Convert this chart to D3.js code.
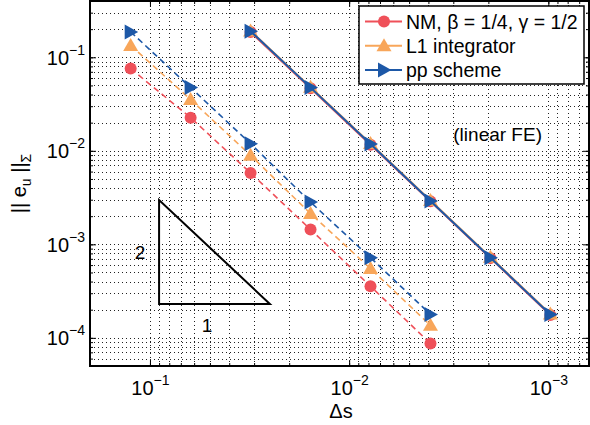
<!DOCTYPE html>
<html><head><meta charset="utf-8">
<script src="https://cdn.jsdelivr.net/npm/d3@7"></script>
<style>
html,body{margin:0;padding:0;background:#fff;}
svg{display:block;font-family:"Liberation Sans",Arial,Helvetica,sans-serif;}
</style></head>
<body>
<svg id="chart" width="590" height="425"></svg>
<script>
// ---- data ----
const dsCoarse = [1/8, 1/16, 1/32, 1/64, 1/128, 1/256];
const dsFine   = [1/32, 1/64, 1/128, 1/256, 1/512, 1/1024];

const nmDashed = [0.0757, 0.0226, 0.0058, 0.00144, 0.000356, 0.000087];
const l1Dashed = [0.134, 0.0353, 0.00895, 0.00213, 0.00055, 0.000136];
const ppDashed = [0.187, 0.0474, 0.0119, 0.00283, 0.00072, 0.000178];

const nmSolid = [0.186, 0.0466, 0.0116, 0.00288, 0.000712, 0.000175];
const l1Solid = [0.191, 0.0479, 0.01195, 0.00294, 0.000728, 0.00018];
const ppSolid = [0.19, 0.0474, 0.0118, 0.00291, 0.00072, 0.000178];

const seriesNames = ["NM, \u03B2 = 1/4, \u03B3 = 1/2", "L1 integrator", "pp scheme"];
const xTickValues = [1e-1, 1e-2, 1e-3];
const xTickExps = ["\u22121", "\u22122", "\u22123"];
const yTickValues = [1e-1, 1e-2, 1e-3, 1e-4];
const yTickExps = ["\u22121", "\u22122", "\u22123", "\u22124"];
const slopeTriX = [0.09, 0.025];
const slopeTriYBottom = 2.3e-4;
const slopeLabels = ["2", "1"];
const annotation = "(linear FE)";

// ---- layout ----
const W = 590, H = 425;
const L = 90, R = 589, T = 1, B = 366;
const colors = ["#ef5059", "#f8a65a", "#1d58a7"];

const svg = d3.select("#chart");
const x = d3.scaleLog().domain([0.2, 0.000625]).range([L, R]);
const y = d3.scaleLog().domain([5e-5, 0.4]).range([B, T]);

// minor values
function logVals(dom) {
  const lo = Math.min(...dom), hi = Math.max(...dom);
  const out = [];
  for (let e = -6; e <= 1; e++) for (let k = 1; k <= 9; k++) {
    const v = k * Math.pow(10, e);
    if (v >= lo * 0.9999 && v <= hi * 1.0001) out.push(v);
  }
  return out;
}
const xAll = logVals(x.domain());
const yAll = logVals(y.domain());

// grid
const grid = svg.append("g").attr("stroke", "#222").attr("stroke-width", 1)
  .attr("stroke-dasharray", "1,3").attr("shape-rendering", "crispEdges");
grid.selectAll("line.gx").data(xAll.filter(v => Math.abs(x(v) - L) > 1 && Math.abs(x(v) - R) > 1)).enter().append("line")
  .attr("x1", d => Math.round(x(d)) + 0.5).attr("x2", d => Math.round(x(d)) + 0.5).attr("y1", T).attr("y2", B);
grid.selectAll("line.gy").data(yAll.filter(v => Math.abs(y(v) - B) > 1 && Math.abs(y(v) - T) > 1)).enter().append("line")
  .attr("y1", d => Math.round(y(d)) + 0.5).attr("y2", d => Math.round(y(d)) + 0.5).attr("x1", L).attr("x2", R);

// axes (inward ticks) major + minor, all four sides
function axisStyle(g) {
  g.select(".domain").remove();
  g.selectAll("line").attr("stroke", "#000").attr("stroke-width", 1);
}
svg.append("g").attr("transform", `translate(0,${B})`)
  .call(d3.axisBottom(x).tickValues(xAll).tickSize(-3).tickFormat(""))
  .call(axisStyle);
svg.append("g").attr("transform", `translate(0,${T})`)
  .call(d3.axisTop(x).tickValues(xAll).tickSize(-3).tickFormat(""))
  .call(axisStyle);
svg.append("g").attr("transform", `translate(${L},0)`)
  .call(d3.axisLeft(y).tickValues(yAll).tickSize(-3).tickFormat(""))
  .call(axisStyle);
svg.append("g").attr("transform", `translate(${R},0)`)
  .call(d3.axisRight(y).tickValues(yAll).tickSize(-3).tickFormat(""))
  .call(axisStyle);

const xAx = svg.append("g").attr("transform", `translate(0,${B})`)
  .call(d3.axisBottom(x).tickValues(xTickValues).tickSize(-6).tickPadding(0).tickFormat(""))
  .call(axisStyle);
svg.append("g").attr("transform", `translate(0,${T})`)
  .call(d3.axisTop(x).tickValues(xTickValues).tickSize(-6).tickFormat(""))
  .call(axisStyle);
const yAx = svg.append("g").attr("transform", `translate(${L},0)`)
  .call(d3.axisLeft(y).tickValues(yTickValues).tickSize(-6).tickPadding(0).tickFormat(""))
  .call(axisStyle);
svg.append("g").attr("transform", `translate(${R},0)`)
  .call(d3.axisRight(y).tickValues(yTickValues).tickSize(-6).tickFormat(""))
  .call(axisStyle);

// tick labels with superscripts
xAx.selectAll(".tick").each(function(d, i) {
  const t = d3.select(this).select("text");
  t.attr("y", 29).attr("dy", null).attr("fill", "#000").attr("text-anchor", "middle")
    .attr("font-size", 20).attr("font-family", "'Liberation Sans',Arial,sans-serif");
  t.append("tspan").text("10");
  t.append("tspan").attr("font-size", 14).attr("dy", -10).text(xTickExps[i]);
});
yAx.selectAll(".tick").each(function(d, i) {
  const t = d3.select(this).select("text");
  t.attr("x", -5).attr("dy", null).attr("y", 7).attr("fill", "#000").attr("text-anchor", "end")
    .attr("font-size", 20).attr("font-family", "'Liberation Sans',Arial,sans-serif");
  t.append("tspan").text("10");
  t.append("tspan").attr("font-size", 14).attr("dy", -10).text(yTickExps[i]);
});

// axes box
svg.append("rect").attr("x", L).attr("y", T).attr("width", R - L).attr("height", B - T)
  .attr("fill", "none").attr("stroke", "#000").attr("stroke-width", 2);

// clip
svg.append("clipPath").attr("id", "clip").append("rect")
  .attr("x", L).attr("y", T).attr("width", R - L).attr("height", B - T);
const plot = svg.append("g").attr("clip-path", "url(#clip)");

// slope triangle
const triPts = [[slopeTriX[0], slopeTriYBottom * Math.pow(slopeTriX[0] / slopeTriX[1], 2)],
                [slopeTriX[0], slopeTriYBottom], [slopeTriX[1], slopeTriYBottom]];
plot.append("path").attr("d", d3.line().x(d => x(d[0])).y(d => y(d[1]))(triPts) + "Z")
  .attr("fill", "none").attr("stroke", "#000").attr("stroke-width", 2);
svg.append("text").attr("x", x(slopeTriX[0]) - 19).attr("y", (y(triPts[0][1]) + y(triPts[1][1])) / 2 + 7)
  .attr("text-anchor", "middle").attr("font-size", 19).text(slopeLabels[0]);
svg.append("text").attr("x", x(slopeTriX[0]) + 48).attr("y", y(slopeTriYBottom) + 28)
  .attr("text-anchor", "middle").attr("font-size", 19).text(slopeLabels[1]);

// annotation
svg.append("text").attr("x", x(0.003)).attr("y", y(0.0127)).attr("font-size", 19).text(annotation);

// markers
function marker(sel, kind, color) {
  if (kind === 0) {
    sel.append("circle").attr("r", 6).attr("fill", color);
  } else if (kind === 1) {
    sel.append("path").attr("d", "M0,-7.5L7.5,5.5L-7.5,5.5Z").attr("fill", color);
  } else {
    sel.append("path").attr("d", "M7.5,0L-6,-7.5L-6,7.5Z").attr("fill", color);
  }
}

function drawSeries(xs, ys, kind, dashed) {
  const pts = xs.map((v, i) => [v, ys[i]]);
  plot.append("path").attr("d", d3.line().x(d => x(d[0])).y(d => y(d[1]))(pts))
    .attr("fill", "none").attr("stroke", colors[kind]).attr("stroke-width", dashed ? 1.6 : 2)
    .attr("stroke-dasharray", dashed ? "6,4" : null);
  const g = plot.append("g");
  pts.forEach(p => {
    const m = g.append("g").attr("transform", `translate(${x(p[0])},${y(p[1])})`);
    marker(m, kind, colors[kind]);
  });
}
drawSeries(dsCoarse, nmDashed, 0, true);
drawSeries(dsCoarse, l1Dashed, 1, true);
drawSeries(dsCoarse, ppDashed, 2, true);
drawSeries(dsFine, nmSolid, 0, false);
drawSeries(dsFine, l1Solid, 1, false);
drawSeries(dsFine, ppSolid, 2, false);

// legend
const lg = svg.append("g");
lg.append("rect").attr("x", 359).attr("y", 6).attr("width", 225).attr("height", 78)
  .attr("fill", "#fff").attr("stroke", "#000").attr("stroke-width", 1.5);
seriesNames.forEach((name, i) => {
  const cy = 21.5 + i * 24.3;
  lg.append("line").attr("x1", 365).attr("x2", 402).attr("y1", cy).attr("y2", cy)
    .attr("stroke", colors[i]).attr("stroke-width", 2);
  const m = lg.append("g").attr("transform", `translate(384,${cy})`);
  marker(m, i, colors[i]);
  lg.append("text").attr("x", 406).attr("y", cy + 7).attr("font-size", 19.5).text(name);
});

// axis titles
svg.append("text").attr("x", 341).attr("y", 418).attr("text-anchor", "middle").attr("font-size", 20).text("\u0394s");
const yl = svg.append("text").attr("transform", `translate(26,${(T + B) / 2}) rotate(-90)`)
  .attr("text-anchor", "middle").attr("font-size", 20);
yl.append("tspan").text("|| e");
yl.append("tspan").attr("font-size", 14).attr("dy", 5).text("u");
yl.append("tspan").attr("dy", -5).text(" ||");
yl.append("tspan").attr("font-size", 14).attr("dy", 5).text("\u03A3");
</script>
</body></html>
